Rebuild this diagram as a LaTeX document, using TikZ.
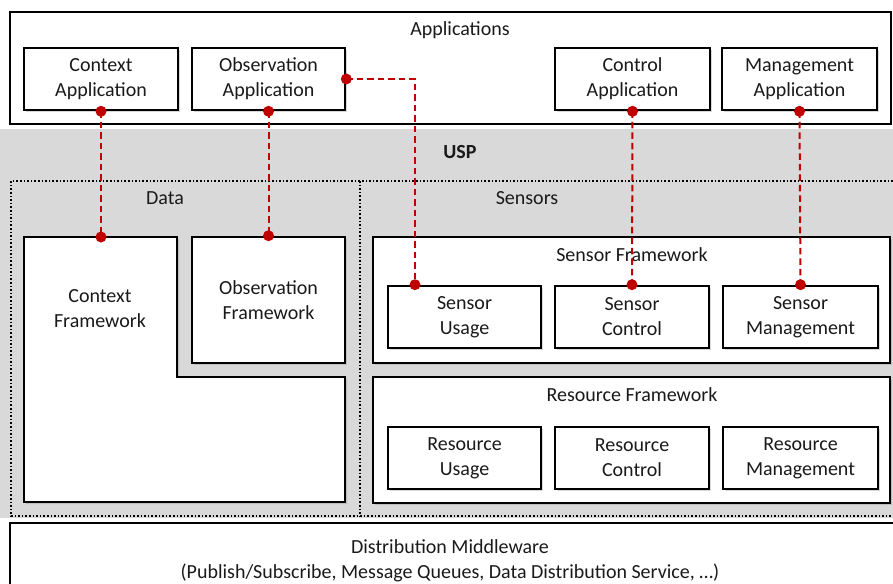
\documentclass[tikz,border=0pt]{standalone}
\usepackage{fontspec}
\setmainfont{Carlito}
\usetikzlibrary{shadows,calc}
\definecolor{bandgray}{HTML}{D9D9D9}
\definecolor{linkred}{HTML}{C00000}
\definecolor{txt}{HTML}{1A1A1A}
\begin{document}
\begin{tikzpicture}[x=1pt,y=-1pt,
  every node/.style={font=\fontsize{20}{25}\selectfont, text=txt},
  box/.style={draw=black, line width=2.6pt, fill=white, inner sep=0pt, align=center,
    execute at begin node={\rule{0pt}{19.5pt}},
    drop shadow={shadow xshift=2pt, shadow yshift=-2pt, opacity=0.3}},
  lbl/.style={inner sep=0pt, align=center},
  link/.style={draw=linkred, line width=2pt, dash pattern=on 6.5pt off 4pt},
  dotmark/.style={fill=linkred}]
\useasboundingbox (0,0) rectangle (893,583);
\clip (0,0) rectangle (893,583);

% grey USP band
\fill[bandgray] (0,129) rectangle (893,518);

% Applications frame
\draw[line width=2.2pt, fill=white] (10,12) rectangle (891,124);
\node[lbl] (apps) at (460,30) {Applications};
\node[lbl, font=\fontsize{20}{25}\selectfont\bfseries] (usp) at (460,152) {USP};

% dotted frames
\draw[line width=1.6pt, dotted] (900,181) -- (11,181) -- (11,516) -- (900,516);
\draw[line width=1.6pt, dotted] (360,181) -- (360,516);
\node[lbl] (data) at (165,198) {Data};
\node[lbl] (sensors) at (527,198) {Sensors};

% Distribution middleware
\draw[line width=2.2pt] (900,523) -- (10,523) -- (10,600);
\node[lbl] (dist) at (450,561) {Distribution Middleware\\(Publish/Subscribe, Message Queues, Data Distribution Service, \dots)};

% application boxes
\node[box, minimum width=154pt, minimum height=62pt] (ctxapp) at (101,79) {Context\\Application};
\node[box, minimum width=153pt, minimum height=62pt] (obsapp) at (268.5,79) {Observation\\Application};
\node[box, minimum width=155pt, minimum height=62pt] (ctlapp) at (632.5,79) {Control\\Application};
\node[box, minimum width=155pt, minimum height=62pt] (mgmapp) at (799.5,79) {Management\\Application};

% data frameworks
\draw[line width=2.6pt, fill=white, drop shadow={shadow xshift=2pt, shadow yshift=-2pt, opacity=0.3}]
  (24,237) -- (177,237) -- (177,377) -- (345,377) -- (345,502) -- (24,502) -- cycle;
\coordinate (ctxfwtop) at (101,237);
\node[lbl] (ctxfw) at (100,309) {Context\\Framework};
\node[box, minimum width=153pt, minimum height=126pt] (obsfw) at (268.5,300) {Observation\\Framework};

% sensor framework
\node[box, minimum width=517pt, minimum height=126pt] (sensfw) at (631.5,300) {};
\node[lbl] (sensfwlbl) at (632,255) {Sensor Framework};
\node[box, minimum width=153pt, minimum height=62pt] (sensusage) at (464.5,317) {Sensor\\Usage};
\node[box, minimum width=154pt, minimum height=62pt] (sensctl) at (632,317) {Sensor\\Control};
\node[box, minimum width=155pt, minimum height=62pt] (sensmgm) at (800.5,317) {Sensor\\Management};

% resource framework
\node[box, minimum width=517pt, minimum height=126pt] (resfw) at (631.5,440) {};
\node[lbl] (resfwlbl) at (632,395) {Resource Framework};
\node[box, minimum width=153pt, minimum height=62pt] (resusage) at (464.5,458) {Resource\\Usage};
\node[box, minimum width=154pt, minimum height=62pt] (resctl) at (632,458) {Resource\\Control};
\node[box, minimum width=155pt, minimum height=62pt] (resmgm) at (800.5,458) {Resource\\Management};

% links
\coordinate (sutop) at ([xshift=-49.5pt]sensusage.north);
\draw[link] (ctxapp.south) -- (ctxfwtop);
\draw[link] (obsapp.south) -- (obsfw.north);
\draw[link] (obsapp.east) -| (sutop);
\draw[link] (ctlapp.south) -- (sensctl.north);
\draw[link] (mgmapp.south) -- (sensmgm.north);

\foreach \p in {ctxapp.south, ctxfwtop, obsapp.south, obsfw.north, obsapp.east, sutop, ctlapp.south, sensctl.north, mgmapp.south, sensmgm.north}
  \fill[dotmark] (\p) circle[radius=5.5pt];
\end{tikzpicture}
\end{document}
